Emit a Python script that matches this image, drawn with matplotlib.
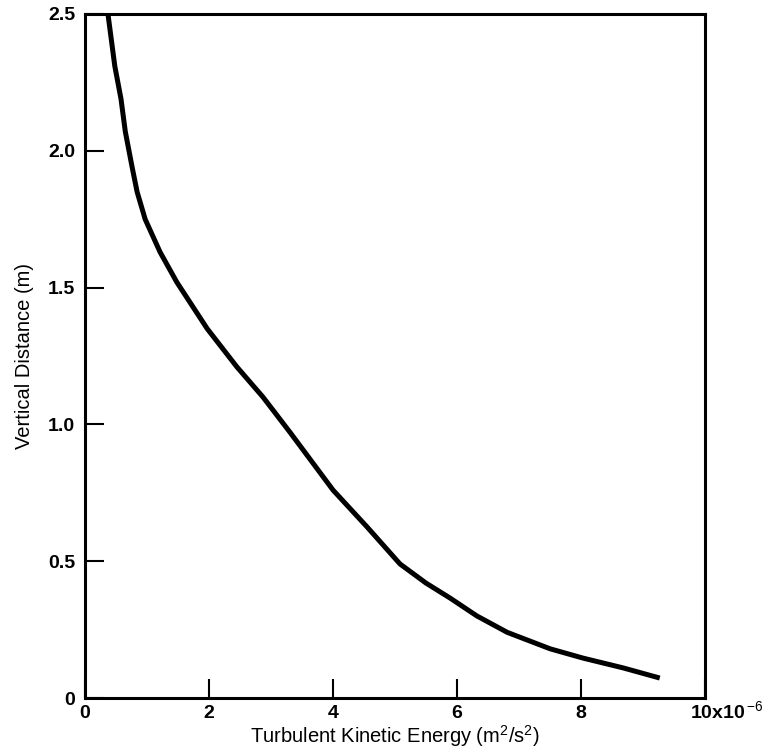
import matplotlib
matplotlib.use("agg")
import matplotlib.pyplot as plt
import matplotlib.transforms as mtransforms

plt.rcParams['font.family'] = ['Liberation Sans', 'DejaVu Sans']
plt.rcParams['mathtext.fontset'] = 'custom'
plt.rcParams['mathtext.rm'] = 'Liberation Sans'
plt.rcParams['mathtext.it'] = 'Liberation Sans'

# turbulent kinetic energy (units of 1e-6 m2/s2) vs height (m)
tke = [0.37, 0.48, 0.58, 0.65, 0.76, 0.84, 0.97, 1.21, 1.48, 1.97, 2.45,
       2.87, 3.31, 4.00, 4.55, 5.08, 5.50, 5.89, 6.32, 6.81, 7.50, 8.03, 8.68, 9.27]
height = [2.50, 2.31, 2.19, 2.07, 1.94, 1.85, 1.75, 1.63, 1.52, 1.35, 1.21,
          1.10, 0.97, 0.76, 0.625, 0.49, 0.42, 0.365, 0.30, 0.24, 0.18, 0.146, 0.11, 0.073]

xticks = [0, 2, 4, 6, 8, 10]
xlabels = ['0', '2', '4', '6', '8', '10x10$^{\\,\\mathrm{-6}}$']
yticks = [0, 0.5, 1.0, 1.5, 2.0, 2.5]
ylabels = ['0', '0.5', '1.0', '1.5', '2.0', '2.5']

fig = plt.figure(figsize=(7.68, 7.56), dpi=100)
ax = fig.add_axes([0.1107, 0.0767, 0.8073, 0.9048])

ax.plot(tke, height, color='black', lw=3.6, solid_capstyle='butt',
        solid_joinstyle='round')

ax.set_xlim(0, 10)
ax.set_ylim(0, 2.5)
ax.set_xticks(xticks)
ax.set_xticklabels(xlabels, fontsize=14, fontweight='bold')
ax.set_yticks(yticks)
ax.set_yticklabels(ylabels, fontsize=14, fontweight='bold')
ax.tick_params(direction='in', length=14, width=1.5, top=False, right=False)
ax.tick_params(axis='x', pad=5)
ax.tick_params(axis='y', pad=7)

# the last label carries the multiplier, pushed right and lifted to line up
lab = ax.get_xticklabels()[-1]
lab.set_ha('left')
lab.set_transform(lab.get_transform() + mtransforms.ScaledTranslation(-15 / 100, 5 / 100, fig.dpi_scale_trans))

for s in ax.spines.values():
    s.set_linewidth(2.2)

ax.set_xlabel('Turbulent Kinetic Energy (m$^2$/s$^2$)', fontsize=14.5, labelpad=1)
ax.set_ylabel('Vertical Distance (m)', fontsize=14.5, labelpad=10)

fig.savefig('out.png', dpi=100)
